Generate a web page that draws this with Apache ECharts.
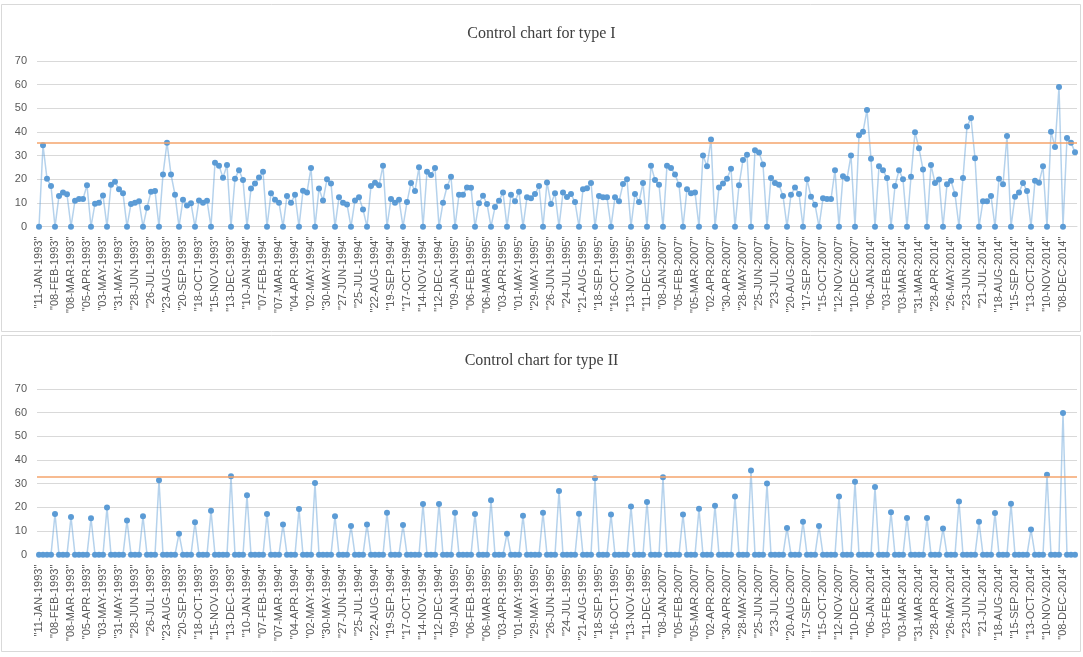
<!DOCTYPE html>
<html>
<head>
<meta charset="utf-8">
<title>Control charts</title>
<script src="https://cdn.jsdelivr.net/npm/echarts@6/dist/echarts.min.js"></script>
<style>
  html, body { margin: 0; padding: 0; background: #fff; }
  #main { width: 1083px; height: 657px; }
</style>
</head>
<body>
<div id="main"></div>
<script>
// weekly runs in the data: first Monday, number of weeks
var weekRuns = [['1993-01-11', 155], ['2007-01-01', 53], ['2014-01-06', 52]];
var monthNames = ['JAN', 'FEB', 'MAR', 'APR', 'MAY', 'JUN', 'JUL', 'AUG', 'SEP', 'OCT', 'NOV', 'DEC'];

// type I counts per week
var type1 = [
    0, 34.4, 20.3, 17.2, 0, 13.0, 14.4, 13.7, 0, 11.0,
    11.7, 11.7, 17.5, 0, 9.7, 10.1, 13.2, 0, 17.7, 19.0,
    15.8, 14.1, 0, 9.6, 10.1, 10.7, 0, 8.0, 14.8, 15.1,
    0, 22.1, 35.5, 22.1, 13.5, 0, 11.4, 9.0, 9.9, 0,
    11.1, 10.1, 11.0, 0, 27.0, 25.8, 20.7, 26.1, 0, 20.3,
    23.9, 19.7, 0, 16.1, 18.2, 20.8, 23.2, 0, 14.1, 11.4,
    10.1, 0, 13.0, 10.1, 13.5, 0, 15.2, 14.5, 24.8, 0,
    16.1, 11.1, 20.0, 18.2, 0, 12.4, 10.1, 9.4, 0, 11.1,
    12.4, 7.3, 0, 17.2, 18.6, 17.5, 25.8, 0, 11.7, 10.1,
    11.4, 0, 10.4, 18.5, 15.1, 25.1, 0, 23.2, 21.8, 24.8,
    0, 10.1, 16.9, 21.1, 0, 13.5, 13.5, 16.6, 16.5, 0,
    9.9, 13.1, 9.6, 0, 8.3, 11.0, 14.4, 0, 13.5, 10.7,
    14.8, 0, 12.4, 12.0, 13.8, 17.2, 0, 18.7, 9.6, 14.1,
    0, 14.4, 12.5, 13.8, 10.4, 0, 15.8, 16.2, 18.5, 0,
    13.0, 12.4, 12.4, 0, 12.4, 10.7, 18.0, 20.0, 0, 13.8,
    10.4, 18.5, 0, 25.8, 19.7, 17.7, 0, 25.8, 24.8, 22.1,
    17.7, 0, 15.8, 14.1, 14.5, 0, 30.1, 25.5, 36.8, 0,
    16.6, 18.2, 20.3, 24.5, 0, 17.5, 28.2, 30.4, 0, 32.3,
    31.3, 26.3, 0, 20.6, 18.5, 17.7, 13.0, 0, 13.5, 16.6,
    13.8, 0, 20.0, 12.7, 9.3, 0, 12.0, 11.7, 11.7, 23.9,
    0, 21.3, 20.3, 30.1, 0, 38.6, 40.1, 49.3, 28.7, 0,
    25.5, 23.9, 20.6, 0, 17.2, 23.9, 20.0, 0, 21.1, 39.9,
    33.1, 24.2, 0, 26.1, 18.5, 19.9, 0, 17.9, 19.4, 13.7,
    0, 20.6, 42.3, 45.9, 28.9, 0, 10.8, 10.8, 13.0, 0,
    20.3, 17.9, 38.3, 0, 12.7, 14.5, 18.5, 15.1, 0, 19.4,
    18.6, 25.5, 0, 40.1, 33.7, 59.0, 0, 37.5, 35.5, 31.5
];

// type II counts per week
var type2 = [
    0, 0, 0, 0, 17.2, 0, 0, 0, 15.9, 0,
    0, 0, 0, 15.4, 0, 0, 0, 19.9, 0, 0,
    0, 0, 14.4, 0, 0, 0, 16.2, 0, 0, 0,
    31.4, 0, 0, 0, 0, 8.9, 0, 0, 0, 13.7,
    0, 0, 0, 18.6, 0, 0, 0, 0, 33.1, 0,
    0, 0, 25.1, 0, 0, 0, 0, 17.2, 0, 0,
    0, 12.8, 0, 0, 0, 19.3, 0, 0, 0, 30.3,
    0, 0, 0, 0, 16.2, 0, 0, 0, 12.1, 0,
    0, 0, 12.8, 0, 0, 0, 0, 17.7, 0, 0,
    0, 12.5, 0, 0, 0, 0, 21.4, 0, 0, 0,
    21.4, 0, 0, 0, 17.7, 0, 0, 0, 0, 17.2,
    0, 0, 0, 23.0, 0, 0, 0, 8.9, 0, 0,
    0, 16.5, 0, 0, 0, 0, 17.7, 0, 0, 0,
    26.9, 0, 0, 0, 0, 17.3, 0, 0, 0, 32.3,
    0, 0, 0, 17.0, 0, 0, 0, 0, 20.4, 0,
    0, 0, 22.3, 0, 0, 0, 32.7, 0, 0, 0,
    0, 17.0, 0, 0, 0, 19.4, 0, 0, 0, 20.7,
    0, 0, 0, 0, 24.6, 0, 0, 0, 35.6, 0,
    0, 0, 30.1, 0, 0, 0, 0, 11.3, 0, 0,
    0, 13.9, 0, 0, 0, 12.1, 0, 0, 0, 0,
    24.6, 0, 0, 0, 30.8, 0, 0, 0, 0, 28.6,
    0, 0, 0, 17.9, 0, 0, 0, 15.5, 0, 0,
    0, 0, 15.5, 0, 0, 0, 11.1, 0, 0, 0,
    22.5, 0, 0, 0, 0, 13.9, 0, 0, 0, 17.6,
    0, 0, 0, 21.5, 0, 0, 0, 0, 10.6, 0,
    0, 0, 33.8, 0, 0, 0, 59.9, 0, 0, 0
];

// upper control limits
var limit1 = 35.4;
var limit2 = 33.1;

// y axis ticks
var yMin = 0, yMax = 70, yStep = 10;

var titles = ['Control chart for type I', 'Control chart for type II'];

// week labels like "11-JAN-1993"
var weeks = [];
weekRuns.forEach(function (run) {
    var start = new Date(run[0] + 'T00:00:00Z').getTime();
    for (var k = 0; k < run[1]; k++) {
        var t = new Date(start + k * 7 * 86400000);
        var dd = ('0' + t.getUTCDate()).slice(-2);
        weeks.push('"' + dd + '-' + monthNames[t.getUTCMonth()] + '-' + t.getUTCFullYear() + '"');
    }
});

var myChart = echarts.init(document.getElementById('main'));

var panelTops = [61, 389];
var blue = '#5b9bd5';
var orange = '#f4a46c';
var gray = '#d9d9d9';
var labelColor = '#595959';

function makeSeries(idx, values, limit) {
    return {
        type: 'line',
        xAxisIndex: idx,
        yAxisIndex: idx,
        data: values,
        symbol: 'circle',
        symbolSize: 6,
        showAllSymbol: true,
        itemStyle: { color: blue },
        lineStyle: { color: 'rgba(91,155,213,0.45)', width: 1.5 },
        markLine: {
            silent: true,
            symbol: ['none', 'none'],
            label: { show: false },
            lineStyle: { color: orange, width: 1.5, type: 'solid' },
            data: [{ yAxis: limit }]
        },
        z: 3
    };
}

option = {
    animation: false,
    backgroundColor: '#fff',
    title: titles.map(function (t, i) {
        return {
            text: t,
            left: 'center',
            top: i === 0 ? 21 : 348,
            textStyle: {
                fontFamily: 'Liberation Serif',
                fontSize: 16,
                fontWeight: 'normal',
                color: '#404040'
            }
        };
    }),
    graphic: [
        { type: 'rect', shape: { x: 1.5, y: 4.5, width: 1079, height: 327 }, style: { fill: null, stroke: gray, lineWidth: 1 } },
        { type: 'rect', shape: { x: 1.5, y: 335.5, width: 1079, height: 316 }, style: { fill: null, stroke: gray, lineWidth: 1 } }
    ],
    grid: panelTops.map(function (top) {
        return { left: 37, right: 6, top: top, height: 165.7 };
    }),
    xAxis: [0, 1].map(function (i) {
        return {
            type: 'category',
            gridIndex: i,
            data: weeks,
            boundaryGap: true,
            axisLine: { lineStyle: { color: gray } },
            axisTick: { show: false },
            axisLabel: {
                interval: 3,
                rotate: 90,
                margin: 10,
                fontSize: 11,
                fontFamily: 'Liberation Sans',
                color: labelColor
            }
        };
    }),
    yAxis: [0, 1].map(function (i) {
        return {
            type: 'value',
            gridIndex: i,
            min: yMin,
            max: yMax,
            interval: yStep,
            axisLine: { show: false },
            axisTick: { show: false },
            splitLine: { lineStyle: { color: gray } },
            axisLabel: {
                margin: 10,
                fontSize: 11,
                fontFamily: 'Liberation Sans',
                color: labelColor
            }
        };
    }),
    series: [
        makeSeries(0, type1, limit1),
        makeSeries(1, type2, limit2)
    ]
};

myChart.setOption(option);
</script>
</body>
</html>
